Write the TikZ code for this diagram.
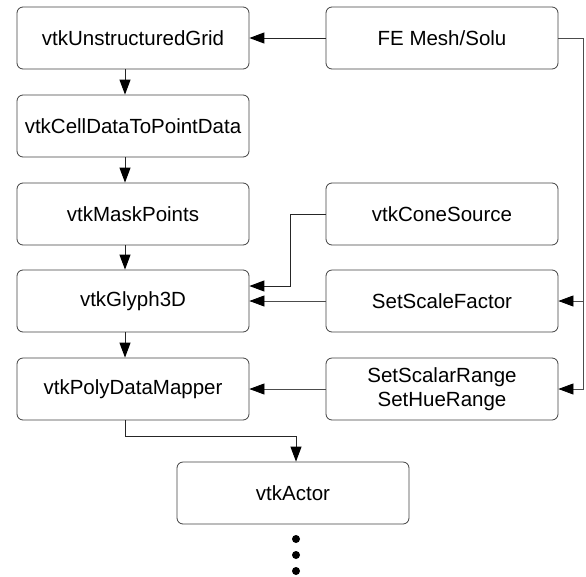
\documentclass[tikz,border=0pt]{standalone}
\usepackage{fontspec}
\setmainfont{Liberation Sans}
\usetikzlibrary{arrows.meta}
\begin{document}
\begin{tikzpicture}[x=1pt,y=-1pt,
  box/.style={draw=black!75,line width=0.8pt,rounded corners=6pt,minimum width=232pt,minimum height=62pt,inner sep=0pt,align=center,font=\fontsize{20.5}{24}\selectfont},
  conn/.style={draw=black!85,line width=1pt,-{Triangle[length=15pt,width=11pt,color=black]}},
  thin/.style={draw=black!70,line width=0.7pt,-{Triangle[length=15pt,width=11pt,color=black]}}]
\useasboundingbox (0,0) rectangle (586,576);
\node[box] (ug) at (133,38) {vtkUnstructuredGrid};
\node[box] (cd) at (133,126) {vtkCellDataToPointData};
\node[box] (mp) at (133,214) {vtkMaskPoints};
\node[box] (gl) at (133,301) {vtkGlyph3D};
\node[box] (pm) at (133,389) {vtkPolyDataMapper};
\node[box] (fe) at (442,38) {FE Mesh/Solu};
\node[box] (cs) at (442,214) {vtkConeSource};
\node[box] (sf) at (442,301) {SetScaleFactor};
\node[box] (sr) at (442,389) {SetScalarRange\\SetHueRange};
\node[box] (ac) at (293,493) {vtkActor};
\coordinate (c1) at (583,38);
\coordinate (c2) at (290,214);
\coordinate (c3) at (125,436);
\draw[conn] (fe.west) -- (ug.east);
\draw[conn] (ug.south -| 125,0) -- (cd.north -| 125,0);
\draw[conn] (cd.south -| 125,0) -- (mp.north -| 125,0);
\draw[conn] (mp.south -| 125,0) -- (gl.north -| 125,0);
\draw[conn] (gl.south -| 125,0) -- (pm.north -| 125,0);
\draw[thin] (fe.east) -- (c1) |- (sf.east);
\draw[thin] (c1) |- (sr.east);
\draw[conn] (cs.west) -- (c2) |- (gl.east |- 0,286);
\draw[thin] (sf.west) -- (gl.east);
\draw[thin] (sr.west) -- (pm.east);
\draw[conn] (pm.south -| c3) -- (c3) -| (ac.north -| 296,0);
\foreach \yy [count=\i] in {539,555,571} \fill (296,\yy) circle (4pt) node (dot\i) {};
\end{tikzpicture}
\end{document}
